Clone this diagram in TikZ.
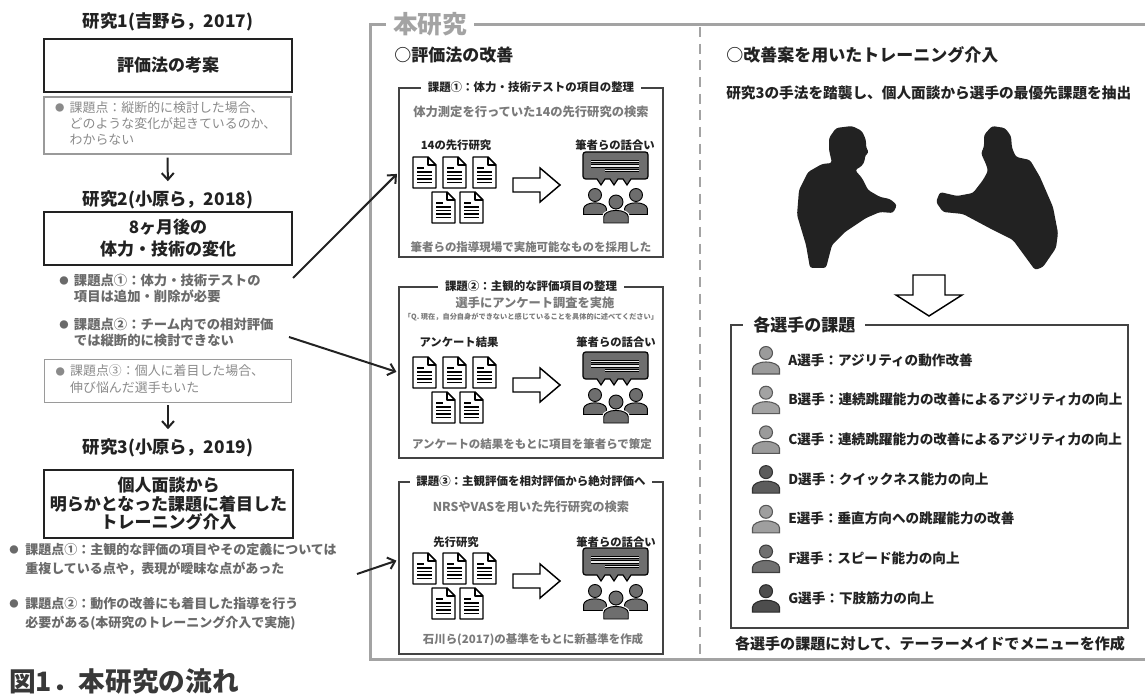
\documentclass[tikz,border=0pt]{standalone}
\usepackage{fontspec}
\setmainfont{Noto Sans CJK JP}
\usetikzlibrary{arrows.meta}

\definecolor{ink}{HTML}{222222}
\definecolor{midgray}{HTML}{6A6A6A}
\definecolor{notegray}{HTML}{7A7A7A}
\definecolor{txtgray}{HTML}{8A8A8A}
\definecolor{boxgray}{HTML}{9A9A9A}
\definecolor{framegray}{HTML}{A3A3A3}
\definecolor{iconfill}{HTML}{6E6E6E}
\definecolor{plA}{HTML}{9B9B9B}
\definecolor{plB}{HTML}{A3A3A3}
\definecolor{plC}{HTML}{9B9B9B}
\definecolor{plD}{HTML}{5C5C5C}
\definecolor{plE}{HTML}{9F9F9F}
\definecolor{plF}{HTML}{707070}
\definecolor{plG}{HTML}{4D4D4D}

\newcommand{\kbul}{\raisebox{0.6pt}{\fontsize{7}{7}\selectfont ●}}

\tikzset{
  % one paper sheet, top left corner at the origin
  doc/.pic={
    \draw[line width=1.1pt, fill=white, line join=round] (0,0) -- (15,0) -- (23,8) -- (23,31) -- (0,31) -- cycle;
    \draw[line width=1.1pt, line join=round] (15,0) -- (15,8) -- (23,8);
    \draw[line width=1.6pt] (4,11) -- (11,11);
    \foreach \ly in {15,18.5,22,25.5}
      \draw[line width=1.1pt] (4,\ly) -- (19,\ly);
  },
  % papers -> hollow arrow -> discussion
  talkflow/.pic={
    % papers
    \foreach \dx/\dy in {0/0,30/0,60/0,19/35,47/35}
      \pic at (\dx,\dy) {doc};
    % hollow arrow
    \draw[line width=1.1pt, fill=white] (100,21) -- (127,21) -- (127,11) -- (147,28) -- (127,45) -- (127,35) -- (100,35) -- cycle;
    % speech bubble
    \draw[line width=0.9pt, fill=iconfill] (170,8) [rounded corners=2pt] -- (170,-5) -- (235,-5) -- (235,22) [sharp corners] -- (218,22) -- (214,28) -- (210,22) -- (205,22) -- (201,28) -- (197,22) -- (192,22) -- (188,28) -- (184,22) [rounded corners=2pt] -- (170,22) -- cycle;
    \foreach \lx/\ly in {178/4.5,178/9,192/13.5} {
      \draw[line width=2.4pt] (\lx,\ly) -- (226,\ly);
      \draw[white!85!gray, line width=0.9pt] (\lx,\ly) -- (226,\ly);
    }
    % three people
    \foreach \cx/\cy/\r in {182/38/6.5,223/38/6.5,203/45/7}
      \path[preaction={draw=white, line width=2.4pt}, fill=iconfill, draw=black, line width=0.7pt]
        (\cx,\cy) circle (\r)
        (\cx-1.75*\r,\cy+3*\r) -- (\cx-1.75*\r,\cy+2.1*\r)
        arc[start angle=180, end angle=360, x radius=1.75*\r, y radius=0.9*\r]
        -- (\cx+1.75*\r,\cy+3*\r) -- cycle;
  },
  % single player icon, centred at the origin
  pics/player/.style={code={
    \path[fill=#1, draw=#1!55!black, line width=0.8pt]
      (0,-7) circle (6.5)
      (-13.5,14) -- (-13.5,9) arc[start angle=180, end angle=360, x radius=13.5, y radius=7]
      -- (13.5,14) -- cycle;
  }},
}

\begin{document}
\begin{tikzpicture}[x=0.75pt, y=-0.75pt,
    sttitle/.style={font=\fontsize{13}{13}\selectfont\bfseries, text=ink, inner sep=0pt},
    studybox/.style={draw=ink, line width=1.5pt, minimum width=186pt, align=center,
      font=\fontsize{12.75}{16.5}\selectfont\bfseries, text=ink},
    graybox/.style={draw=boxgray, line width=0.9pt, minimum width=185.25pt, text width=168.75pt,
      inner xsep=8.25pt, align=left, font=\fontsize{9.7}{12}\selectfont, text=txtgray},
    issue/.style={font=\fontsize{10}{12}\selectfont\bfseries, text=midgray, inner sep=0pt, anchor=west},
    flow/.style={line width=1.5pt, draw=ink, -{Straight Barb[length=5pt, width=9pt]}},
    frame/.style={draw=framegray, line width=2.25pt},
    framelabel/.style={fill=white, text=framegray, font=\fontsize{18.5}{18.5}\selectfont\bfseries,
      inner xsep=5pt, inner ysep=1pt},
    heading/.style={font=\fontsize{12.75}{12.75}\selectfont\bfseries, text=ink, inner sep=0pt, anchor=west},
    taskbox/.style={draw=ink!85, line width=1pt, minimum width=198pt},
    tasktitle/.style={fill=white, font=\fontsize{8.6}{8.6}\selectfont\bfseries, text=ink,
      inner xsep=5pt, inner ysep=1pt},
    subnote/.style={font=\fontsize{9.2}{9.2}\selectfont\bfseries, text=notegray, inner sep=0pt},
    iconlabel/.style={font=\fontsize{8.5}{8.5}\selectfont\bfseries, text=ink, inner sep=0pt},
    rowtext/.style={font=\fontsize{10.2}{10.2}\selectfont\bfseries, text=ink, inner sep=0pt, anchor=west},
  ]
\useasboundingbox (0,0) rectangle (1145,695);

% earlier studies
\node[sttitle] (st1) at (168,22) {研究1(吉野ら，2017)};
\node[studybox, minimum height=39.75pt] (kouan) at (168,65.5) {評価法の考案};
\node[graybox, minimum height=42.75pt] (kadai1) at (167.5,125.5)
  {\begin{tabular}{@{}l@{\hspace{4pt}}l@{}}\kbul & 課題点：縦断的に検討した場合、\\ & どのような変化が起きているのか、\\ & わからない\end{tabular}};

\node[sttitle] (st2) at (168,200) {研究2(小原ら，2018)};
\node[studybox, minimum height=39.75pt] (henka) at (168,238.5) {8ヶ月後の\\体力・技術の変化};
\node[issue] (p21) at (59,290)
  {\begin{tabular}{@{}l@{\hspace{4pt}}l@{}}\kbul & 課題点①：体力・技術テストの\\ & 項目は追加・削除が必要\end{tabular}};
\node[issue] (p22) at (59,334)
  {\begin{tabular}{@{}l@{\hspace{4pt}}l@{}}\kbul & 課題点②：チーム内での相対評価\\ & では縦断的に検討できない\end{tabular}};
\node[graybox, minimum height=31.5pt, font=\fontsize{9.7}{12.75}\selectfont] (kadai3) at (168,381)
  {\begin{tabular}{@{}l@{\hspace{4pt}}l@{}}\kbul & 課題点③：個人に着目した場合、\\ & 伸び悩んだ選手もいた\end{tabular}};

\node[sttitle] (st3) at (168,448) {研究3(小原ら，2019)};
\node[studybox, minimum width=186.75pt, minimum height=51pt, font=\fontsize{12.75}{13.9}\selectfont\bfseries]
  (kainyu) at (168.5,504) {個人面談から\\明らかとなった課題に着目した\\トレーニング介入};
\node[issue, font=\fontsize{9.75}{14.25}\selectfont\bfseries] (p31) at (9,560)
  {\begin{tabular}{@{}l@{\hspace{5pt}}l@{}}\kbul & 課題点①：主観的な評価の項目やその定義については\\ & 重複している点や，表現が曖昧な点があった\end{tabular}};
\node[issue, font=\fontsize{9.75}{14.25}\selectfont\bfseries] (p32) at (9,614)
  {\begin{tabular}{@{}l@{\hspace{5pt}}l@{}}\kbul & 課題点②：動作の改善にも着目した指導を行う\\ & 必要がある(本研究のトレーニング介入で実施)\end{tabular}};

\draw[flow, shorten <=2.25pt, shorten >=7pt] (kadai1.south) -- (st2.north);
\draw[flow, shorten <=1.5pt, shorten >=7pt] (kadai3.south) -- (st3.north);

\node[anchor=west, inner sep=0pt, font=\fontsize{20}{20}\selectfont\bfseries, text=ink!90] (fig) at (9,681) {図1．本研究の流れ};

% frame of the present study
\draw[frame] (1145,25) -- (370,25) -- (370,659) -- (1145,659);
\node[framelabel] (honken) at (430,24) {本研究};
\draw[framegray, line width=1.5pt, dash pattern=on 7.5pt off 5pt] (700,27) -- (700,657);

% improving the evaluation
\node[heading] (kaizen) at (394,55) {○評価法の改善};

\node[taskbox, minimum height=126.75pt] (box1) at (531,172.5) {};
\node[tasktitle] (t1) at (box1.north) {課題①：体力・技術テストの項目の整理};
\node[subnote] (s1) at (531,112) {体力測定を行っていた14の先行研究の検索};
\node[iconlabel] (l1) at (456,145) {14の先行研究};
\node[iconlabel] (r1) at (615,145) {筆者らの話合い};
\pic at (413,157) {talkflow};
\node[subnote, font=\fontsize{8.6}{8.6}\selectfont\bfseries] (e1) at (531,247) {筆者らの指導現場で実施可能なものを採用した};

\node[taskbox, minimum height=128.25pt] (box2) at (531,372.5) {};
\node[tasktitle] (t2) at (box2.north) {課題②：主観的な評価項目の整理};
\node[subnote] (s2) at (535,303) {選手にアンケート調査を実施};
\node[subnote, font=\fontsize{5.4}{5.4}\selectfont\bfseries] (q2) at (531,317) {「Q. 現在，自分自身ができないと感じていることを具体的に述べてください」};
\node[iconlabel] (l2) at (459,342) {アンケート結果};
\node[iconlabel] (r2) at (616,342) {筆者らの話合い};
\pic at (413,357) {talkflow};
\node[subnote, font=\fontsize{8.6}{8.6}\selectfont\bfseries] (e2) at (532,444) {アンケートの結果をもとに項目を筆者らで策定};

\node[taskbox, minimum height=129pt] (box3) at (531,568) {};
\node[tasktitle] (t3) at (box3.north) {課題③：主観評価を相対評価から絶対評価へ};
\node[subnote] (s3) at (531,507) {NRSやVASを用いた先行研究の検索};
\node[iconlabel] (l3) at (456,542) {先行研究};
\node[iconlabel] (r3) at (616,542) {筆者らの話合い};
\pic at (413,553) {talkflow};
\node[subnote, font=\fontsize{8.6}{8.6}\selectfont\bfseries] (e3) at (533,640) {石川ら(2017)の基準をもとに新基準を作成};

% issues feeding the three tasks
\coordinate (from21) at (293,278);
\coordinate (from22) at (289,337);
\coordinate (from31) at (357,574);
\draw[flow, shorten >=1.5pt] (from21) -- (box1.west);
\draw[flow, shorten >=1.5pt] (from22) -- (box2.west);
\draw[flow, shorten >=1.5pt] (from31) -- ([yshift=6pt]box3.west);

% training intervention
\node[heading] (kainyu2) at (726,55) {○改善案を用いたトレーニング介入};
\node[heading, font=\fontsize{11}{11}\selectfont\bfseries] (mendan) at (726,93) {研究3の手法を踏襲し、個人面談から選手の最優先課題を抽出};

% interview silhouettes
\fill[ink, rounded corners=2pt] (836,128) -- (852,126) -- (862,131) -- (866,140) -- (866,147) -- (869,153) -- (865,155) -- (865,160) -- (862,166) -- (855,170) -- (862,178) -- (868,190) -- (880,197) -- (890,199) -- (897,205) -- (893,213) -- (880,212) -- (866,218) -- (845,232) -- (832,245) -- (826,268) -- (810,268) -- (806,245) -- (797,215) -- (799,190) -- (808,172) -- (822,164) -- (832,163) -- (829,150) -- (829,138) -- cycle;
\fill[ink, rounded corners=2pt] (992,126) -- (1005,128) -- (1011,136) -- (1012,148) -- (1016,157) -- (1030,160) -- (1040,177) -- (1053,207) -- (1058,233) -- (1056,248) -- (1043,267) -- (1035,270) -- (1013,240) -- (993,230) -- (963,214) -- (943,212) -- (936,202) -- (940,192) -- (957,196) -- (973,193) -- (983,180) -- (988,171) -- (986,164) -- (984,160) -- (981,153) -- (984,147) -- (984,135) -- cycle;

% hollow arrow down
\draw[line width=1.1pt, fill=white] (913,275) -- (945,275) -- (945,295) -- (962,295) -- (929,316) -- (896,295) -- (913,295) -- cycle;

% tasks of each player
\node[taskbox, minimum width=297.75pt, minimum height=227.25pt] (kadaibox) at (929.5,476.5) {};
\node[anchor=west, fill=white, inner xsep=7.5pt, inner ysep=1pt, font=\fontsize{12.75}{12.75}\selectfont\bfseries, text=ink] (kadaititle) at (743,325) {各選手の課題};
\foreach \c/\t [count=\i from 0] in {plA/A選手：アジリティの動作改善,
    plB/B選手：連続跳躍能力の改善によるアジリティ力の向上,
    plC/C選手：連続跳躍能力の改善によるアジリティ力の向上,
    plD/D選手：クイックネス能力の向上,
    plE/E選手：垂直方向への跳躍能力の改善,
    plF/F選手：スピード能力の向上,
    plG/G選手：下肢筋力の向上} {
  \pic at (766,{360+39.7*\i}) {player=\c};
  \node[rowtext] (row\i) at (788,{360+39.7*\i}) {\t};
}
\node[font=\fontsize{11.3}{11.3}\selectfont\bfseries, text=ink, inner sep=0pt] (menu) at (930,644) {各選手の課題に対して、テーラーメイドでメニューを作成};
\end{tikzpicture}
\end{document}
